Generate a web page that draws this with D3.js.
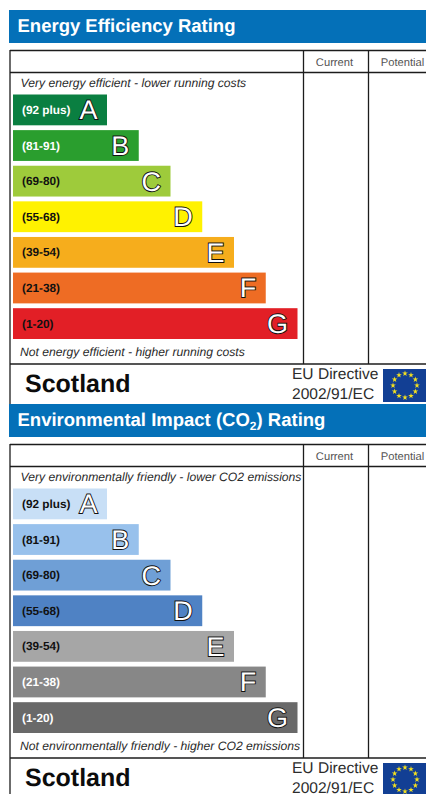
<!DOCTYPE html>
<html>
<head>
<meta charset="utf-8">
<title>Energy Efficiency Rating</title>
<script src="https://cdn.jsdelivr.net/npm/d3@7"></script>
<style>
  html, body { margin: 0; padding: 0; background: #fff; }
  svg { display: block; }
  text { font-family: "Liberation Sans", Arial, sans-serif; text-rendering: geometricPrecision; }
</style>
</head>
<body>
<div id="chart-area"></div>
<script>
// data
let grades = ["A", "B", "C", "D", "E", "F", "G"];
let bands = ["(92 plus)", "(81-91)", "(69-80)", "(55-68)", "(39-54)", "(21-38)", "(1-20)"];
let barSteps = [1, 2, 3, 4, 5, 6, 7];
let columns = ["Current", "Potential"];

let energyColors = ["#0a7f41", "#2a9e2e", "#9ecb3b", "#fff200", "#f6ad1c", "#ee6c24", "#e21f26"];
let energyLabelColors = ["#fff", "#fff", "#111", "#111", "#111", "#111", "#111"];
let co2Colors = ["#c8dff6", "#98c1ec", "#6f9fd6", "#4f82c4", "#a6a6a6", "#878787", "#696969"];
let co2LabelColors = ["#111", "#111", "#111", "#111", "#111", "#fff", "#fff"];

let width = 426, height = 794;

let svg = d3.select("#chart-area")
            .append("svg")
            .attr("width", width)
            .attr("height", height);

// bar length goes up by one step per grade
let x = d3.scaleLinear().domain([1, 7]).range([107, 297.5]);

function drawPanel(top, opts){
    let g = svg.append("g").attr("transform", "translate(0," + top + ")");

    // blue title strip
    g.append("rect")
        .attr("x", 9).attr("y", 0)
        .attr("width", width - 9).attr("height", 33)
        .attr("fill", "#0470b8");

    let title = g.append("text")
        .attr("x", 17.5).attr("y", 22)
        .attr("fill", "#fff")
        .attr("font-size", 18.5)
        .attr("font-weight", "bold");
    opts.title(title);

    // table frame
    let lines = [
        [10, 40.5, width, 40.5],
        [10, 62.5, width, 62.5],
        [10, 354, width, 354],
        [10, 40, 10, opts.frameEnd],
        [303.5, 40, 303.5, 354],
        [368.5, 40, 368.5, 354]
    ];
    g.selectAll("line.frame")
        .data(lines)
        .enter().append("line")
        .attr("class", "frame")
        .attr("x1", d => d[0]).attr("y1", d => d[1])
        .attr("x2", d => d[2]).attr("y2", d => d[3])
        .attr("stroke", "#1c1c1c")
        .attr("stroke-width", 1.3);

    // column headers
    g.selectAll("text.col")
        .data(columns)
        .enter().append("text")
        .attr("class", "col")
        .attr("x", (d, i) => i == 0 ? 334.5 : 402.5)
        .attr("y", 55.5)
        .attr("text-anchor", "middle")
        .attr("font-size", 11.2)
        .attr("fill", "#555")
        .text(d => d);

    g.append("text")
        .attr("x", 20.5).attr("y", 77)
        .attr("font-size", 12.15)
        .attr("font-style", "italic")
        .attr("fill", "#2a2a2a")
        .text(opts.topNote);

    g.append("text")
        .attr("x", 20).attr("y", 345.5)
        .attr("font-size", 12.15)
        .attr("font-style", "italic")
        .attr("fill", "#2a2a2a")
        .text(opts.bottomNote);

    // rating bars
    let y = d3.scaleBand()
        .domain(grades)
        .range([84.5, 329])
        .paddingInner(0.135)
        .paddingOuter(0);

    let rows = g.selectAll("g.row")
        .data(grades)
        .enter().append("g")
        .attr("class", "row")
        .attr("transform", d => "translate(0," + y(d) + ")");

    rows.append("rect")
        .attr("x", 13)
        .attr("width", (d, i) => x(barSteps[i]) - 13)
        .attr("height", y.bandwidth())
        .attr("fill", (d, i) => opts.colors[i]);

    rows.append("text")
        .attr("x", 22)
        .attr("y", y.bandwidth() / 2 + 4)
        .attr("font-size", 11.8)
        .attr("font-weight", "bold")
        .attr("fill", (d, i) => opts.labelColors[i])
        .text((d, i) => bands[i]);

    // big grade letter: dark outline underneath, white letter on top
    rows.append("text")
        .attr("x", (d, i) => x(barSteps[i]) - 9.5)
        .attr("y", y.bandwidth() / 2 + 9.5)
        .attr("text-anchor", "end")
        .attr("font-size", 27)
        .attr("fill", "#111")
        .attr("stroke", "#111")
        .attr("stroke-width", 1.8)
        .text(d => d);

    rows.append("text")
        .attr("x", (d, i) => x(barSteps[i]) - 9.5)
        .attr("y", y.bandwidth() / 2 + 9.5)
        .attr("text-anchor", "end")
        .attr("font-size", 27)
        .attr("fill", "#fff")
        .text(d => d);

    // footer
    g.append("text")
        .attr("x", 25).attr("y", 382)
        .attr("font-size", 25)
        .attr("font-weight", "bold")
        .attr("fill", "#0c0c0c")
        .text("Scotland");

    g.append("text")
        .attr("x", 292).attr("y", 369)
        .attr("font-size", 15.55)
        .attr("fill", "#2c2c2c")
        .text("EU Directive");

    g.append("text")
        .attr("x", 292).attr("y", 388.5)
        .attr("font-size", 15.55)
        .attr("fill", "#2c2c2c")
        .text("2002/91/EC");

    // EU flag
    let flag = g.append("g").attr("transform", "translate(405,375.5)");
    flag.append("rect")
        .attr("x", -22).attr("y", -16.5)
        .attr("width", 43).attr("height", 33)
        .attr("fill", "#123f94");
    flag.selectAll("path")
        .data(d3.range(12))
        .enter().append("path")
        .attr("d", d3.symbol(d3.symbolStar, 10))
        .attr("transform", d => {
            let a = d / 12 * 2 * Math.PI;
            return "translate(" + (Math.sin(a) * 12) + "," + (-Math.cos(a) * 12) + ")";
        })
        .attr("fill", "#f4e01f");
}

drawPanel(10, {
    title: t => t.text("Energy Efficiency Rating"),
    topNote: "Very energy efficient - lower running costs",
    bottomNote: "Not energy efficient - higher running costs",
    colors: energyColors,
    labelColors: energyLabelColors,
    frameEnd: 394
});

drawPanel(404, {
    title: t => {
        t.append("tspan").text("Environmental Impact (CO");
        t.append("tspan").attr("font-size", 12).attr("dy", 4).text("2");
        t.append("tspan").attr("dy", -4).text(") Rating");
    },
    topNote: "Very environmentally friendly - lower CO2 emissions",
    bottomNote: "Not environmentally friendly - higher CO2 emissions",
    colors: co2Colors,
    labelColors: co2LabelColors,
    frameEnd: 390
});
</script>
</body>
</html>
